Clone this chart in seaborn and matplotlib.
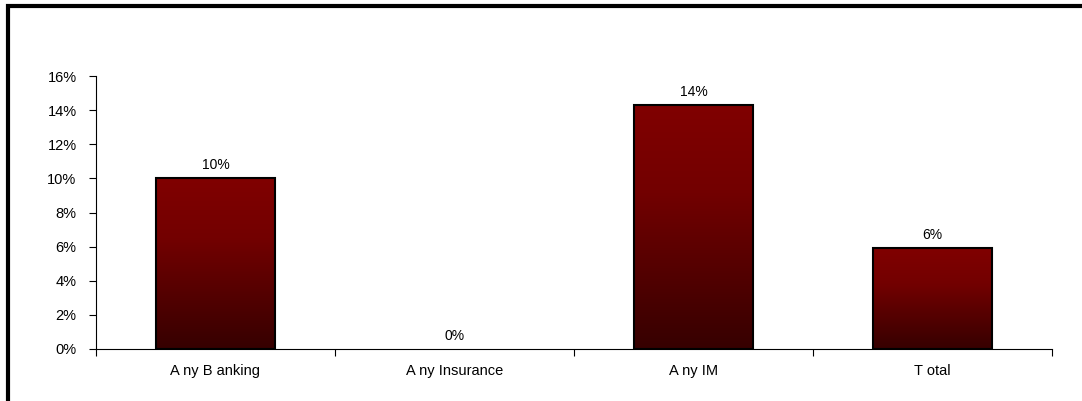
import numpy as np
import pandas as pd
import matplotlib
matplotlib.use("Agg")
import matplotlib.pyplot as plt
import seaborn as sns
from matplotlib.lines import Line2D

categories = ["Any Banking", "Any Insurance", "Any IM", "Total"]
values = [10.0, 0.0, 14.3, 5.9]
labels = ["10%", "0%", "14%", "6%"]
tick_labels = ["A ny B anking", "A ny Insurance", "A ny IM", "T otal"]

df = pd.DataFrame({"cat": categories, "val": values})

sns.set_style("white")
plt.rcParams["font.family"] = ["Liberation Sans", "DejaVu Sans"]
plt.rcParams["text.color"] = "black"
plt.rcParams["xtick.color"] = "black"
plt.rcParams["ytick.color"] = "black"

fig = plt.figure(figsize=(10.82, 4.01), dpi=100)
ax = fig.add_axes([96 / 1082, 52 / 401, 956 / 1082, 273 / 401])

sns.barplot(data=df, x="cat", y="val", color="#800000", width=0.5,
            edgecolor="black", linewidth=1.5, ax=ax, zorder=2)

# gradient fill: dark red at the top, near black at the bottom
grad = np.linspace(0, 1, 256).reshape(-1, 1)
cmap = matplotlib.colors.LinearSegmentedColormap.from_list(
    "g", [(0, "#800000"), (0.35, "#730000"), (1, "#360000")])
for p in ax.patches:
    h = p.get_height()
    if h <= 0:
        p.set_linewidth(0)
        p.set_facecolor("none")
        continue
    x0 = p.get_x()
    w = p.get_width()
    im = ax.imshow(grad, cmap=cmap, aspect="auto", extent=[x0, x0 + w, 0, h],
                   zorder=2.5, vmin=0, vmax=1)
    im.set_clip_path(p)
    p.set_facecolor("none")
    p.set_zorder(3)

for i, (v, lab) in enumerate(zip(values, labels)):
    ax.text(i, v + 0.35, lab, ha="center", va="bottom", fontsize=10, color="black")

ax.set_xlim(-0.5, 3.5)
ax.set_ylim(0, 16)
ax.set_yticks(np.arange(0, 17, 2))
ax.set_yticklabels([f"{t}%" for t in range(0, 17, 2)], fontsize=10.5)
ax.set_xticks(range(4))
ax.set_xticklabels(tick_labels, fontsize=10.5)
ax.set_xticks(np.arange(-0.5, 4, 1), minor=True)
ax.tick_params(axis="x", which="major", length=0, pad=11, bottom=True)
ax.tick_params(axis="x", which="minor", length=5, width=0.8, color="black",
               direction="out", bottom=True)
ax.tick_params(axis="y", length=5, width=0.8, color="black", direction="out", pad=9, left=True)
ax.set_xlabel("")
ax.set_ylabel("")
for s in ["top", "right"]:
    ax.spines[s].set_visible(False)
for s in ["left", "bottom"]:
    ax.spines[s].set_color("black")
    ax.spines[s].set_linewidth(0.8)

# thick frame around chart (only top and left visible)
W, H = 1082, 401
fig.add_artist(Line2D([8 / W, 8 / W, 1.0], [0.0, 1 - 5.5 / H, 1 - 5.5 / H],
                      transform=fig.transFigure, color="black", linewidth=3.0,
                      solid_joinstyle="miter"))

fig.savefig("out.png", dpi=100)
